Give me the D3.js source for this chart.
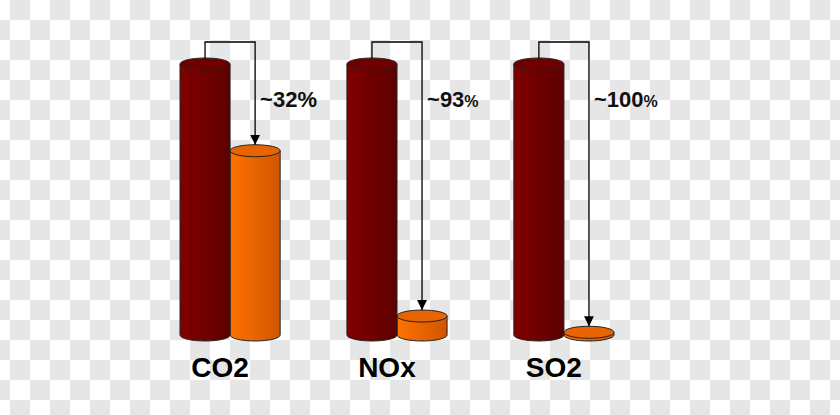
<!DOCTYPE html>
<html>
<head>
<meta charset="utf-8">
<script src="https://cdn.jsdelivr.net/npm/d3@7"></script>
<style>body{margin:0;overflow:hidden}</style>
</head>
<body>
<svg id="chart" width="840" height="415"></svg>
<script>
// emissions, before (=100) and after
const categories = ["CO2", "NOx", "SO2"];
const before = [100, 100, 100];
const after = [68, 7, 1];
const reductionLabels = ["~32", "~93", "~100"];

const svg = d3.select("#chart");
const defs = svg.append("defs");

// checkerboard background
const pat = defs.append("pattern").attr("id", "chk").attr("width", 40).attr("height", 40)
    .attr("patternUnits", "userSpaceOnUse").attr("x", 10).attr("y", 0);
pat.append("rect").attr("width", 40).attr("height", 40).attr("fill", "#ffffff");
pat.append("rect").attr("width", 20).attr("height", 20).attr("fill", "#e6e6e6");
pat.append("rect").attr("x", 20).attr("y", 20).attr("width", 20).attr("height", 20).attr("fill", "#e6e6e6");
svg.append("rect").attr("width", 840).attr("height", 415).attr("fill", "url(#chk)");

function grad(id, c1, c2) {
    const g = defs.append("linearGradient").attr("id", id);
    g.append("stop").attr("offset", "0%").attr("stop-color", c1);
    g.append("stop").attr("offset", "100%").attr("stop-color", c2);
}
grad("dark", "#820000", "#5c0000");
grad("orange", "#ff7200", "#cf5600");

defs.append("marker").attr("id", "arr").attr("viewBox", "0 0 10 10").attr("refX", 10).attr("refY", 5)
    .attr("markerWidth", 10).attr("markerHeight", 10).attr("markerUnits", "userSpaceOnUse").attr("orient", "auto")
    .append("path").attr("d", "M0,0L10,5L0,10Z").attr("fill", "#000");

const x = d3.scaleBand().domain(categories).range([180, 614]).paddingInner(0.4).paddingOuter(0);
const y = d3.scaleLinear().domain([0, 100]).range([335, 64]);
const bw = x.bandwidth() / 2;
const ry = 6;

function cylinder(g, x0, v, fill, topFill) {
    const top = y(v), bot = y(0), rx = bw / 2;
    g.append("path")
        .attr("d", `M${x0},${top} L${x0},${bot} A${rx},${ry} 0 0 0 ${x0 + bw},${bot} L${x0 + bw},${top} Z`)
        .attr("fill", fill).attr("stroke", "#222").attr("stroke-width", 1);
    g.append("ellipse").attr("cx", x0 + rx).attr("cy", top).attr("rx", rx).attr("ry", ry)
        .attr("fill", topFill).attr("stroke", "#222").attr("stroke-width", 1);
}

categories.forEach((c, i) => {
    const g = svg.append("g");
    const x0 = x(c);
    cylinder(g, x0 + bw, after[i], "url(#orange)", "#e86400");
    cylinder(g, x0, before[i], "url(#dark)", "#700000");
    const ax1 = x0 + bw / 2, ax2 = x0 + bw * 1.5;
    g.append("path").attr("d", `M${ax1},${y(before[i]) - 6} V42 H${ax2} V${y(after[i]) - ry}`)
        .attr("fill", "none").attr("stroke", "#000").attr("stroke-width", 1.3).attr("marker-end", "url(#arr)");
    const t = g.append("text").attr("x", ax2 + 5).attr("y", 107)
        .attr("font-family", "Liberation Sans, Arial, sans-serif").attr("font-weight", "bold")
        .attr("font-size", 22).attr("fill", "#111");
    t.append("tspan").text(reductionLabels[i]);
    t.append("tspan").text("%").attr("font-size", i ? 16 : 22);
    g.append("text").attr("x", x0 + 40).attr("y", 377).attr("text-anchor", "middle")
        .attr("font-family", "Liberation Sans, Arial, sans-serif").attr("font-weight", "bold")
        .attr("font-size", 28).attr("fill", "#000").text(c);
});
</script>
</body>
</html>
